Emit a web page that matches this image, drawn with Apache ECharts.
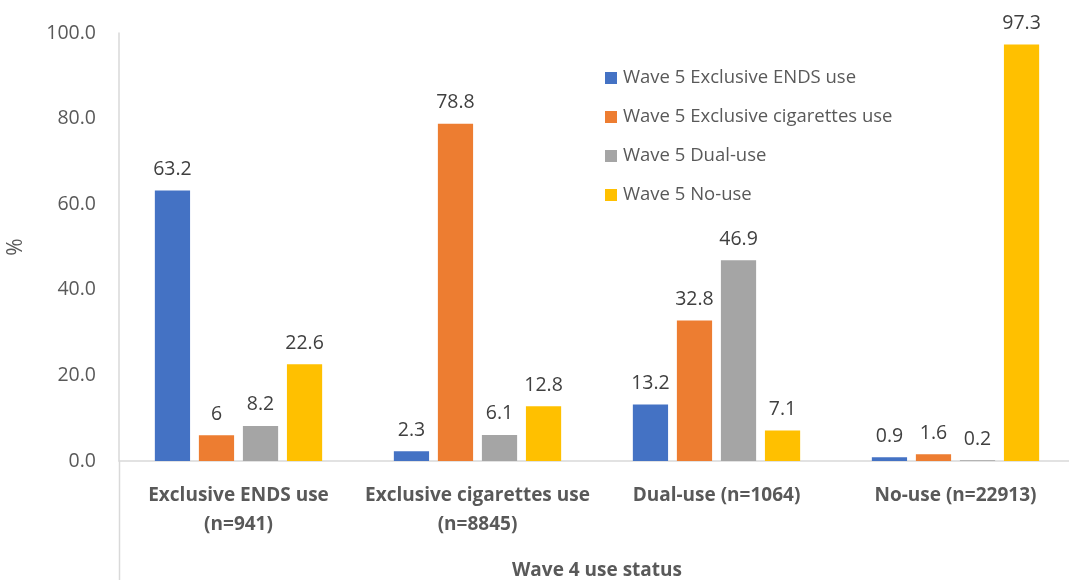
<!DOCTYPE html>
<html>
<head>
<meta charset="utf-8">
<script src="https://cdn.jsdelivr.net/npm/echarts@6/dist/echarts.min.js"></script>
<style>html,body{margin:0;padding:0;background:#fff;}#c{width:1069px;height:580px;}</style>
</head>
<body>
<div id="c"></div>
<script>
const categories = ['Exclusive ENDS use\n(n=941)', 'Exclusive cigarettes use\n(n=8845)', 'Dual-use (n=1064)', 'No-use (n=22913)'];
const seriesNames = ['Wave 5 Exclusive ENDS use', 'Wave 5 Exclusive cigarettes use', 'Wave 5 Dual-use', 'Wave 5 No-use'];
const endsUse = [63.2, 2.3, 13.2, 0.9];
const cigUse = [6, 78.8, 32.8, 1.6];
const dualUse = [8.2, 6.1, 46.9, 0.2];
const noUse = [22.6, 12.8, 7.1, 97.3];
const colors = ['#4472C4', '#ED7D31', '#A5A5A5', '#FFC000'];
const yTicks = [0, 20, 40, 60, 80, 100];

const FONT = 'Open Sans';
const chart = echarts.init(document.getElementById('c'));
const values = [endsUse, cigUse, dualUse, noUse];
chart.setOption({
  animation: false,
  textStyle: {fontFamily: FONT},
  grid: {left: 119, right: -6, top: 33, bottom: 119, containLabel: false, outerBoundsMode: 'none'},
  legend: {
    orient: 'vertical', left: 600, top: 61, itemGap: 15,
    itemWidth: 12, itemHeight: 12, icon: 'rect',
    textStyle: {fontSize: 18.5, color: '#595959', fontFamily: FONT, padding: [0, 0, 0, 1], lineHeight: 24},
    data: seriesNames
  },
  xAxis: {
    type: 'category', data: categories,
    axisLine: {lineStyle: {color: '#D9D9D9', width: 1.5}},
    axisTick: {show: false},
    axisLabel: {fontSize: 19, fontWeight: 'bold', color: '#595959', margin: 20, lineHeight: 29, interval: 0, fontFamily: FONT},
    name: 'Wave 4 use status', nameLocation: 'middle', nameGap: 100,
    nameTextStyle: {fontSize: 19, fontWeight: 'bold', color: '#595959', fontFamily: FONT}
  },
  yAxis: {
    type: 'value', min: 0, max: 100, interval: 20,
    axisLine: {show: true, lineStyle: {color: '#D9D9D9', width: 1.5}},
    axisTick: {show: false}, splitLine: {show: false},
    axisLabel: {fontSize: 19.5, color: '#595959', margin: 23, formatter: v => v.toFixed(1), fontFamily: FONT},
    name: '%', nameLocation: 'middle', nameGap: 92, nameRotate: 90,
    nameTextStyle: {fontSize: 21, color: '#595959', fontFamily: FONT}
  },
  graphic: [{type: 'line', shape: {x1: 119.5, y1: 461, x2: 119.5, y2: 580}, style: {stroke: '#D9D9D9', lineWidth: 1.5}}],
  series: seriesNames.map((n, i) => ({
    name: n, type: 'bar', data: values[i],
    barGap: '25%', barCategoryGap: '30%',
    itemStyle: {color: colors[i]},
    label: {show: true, position: 'top', distance: 11, fontSize: 19.5, color: '#404040', fontFamily: FONT}
  }))
});
</script>
</body>
</html>
